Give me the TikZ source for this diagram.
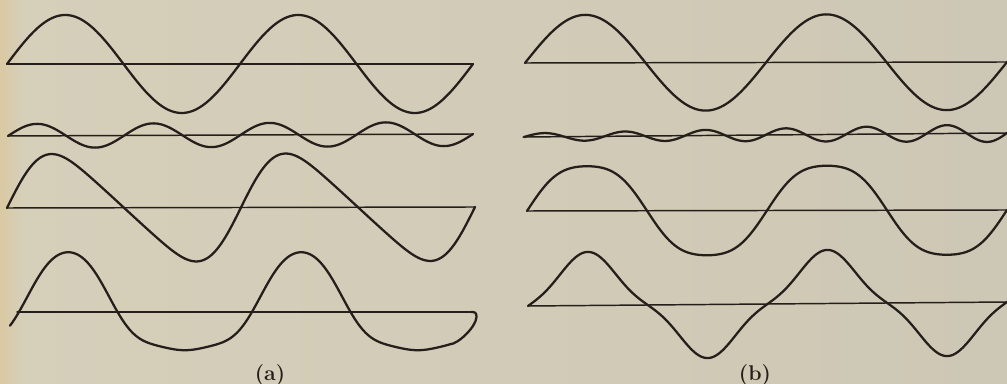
\documentclass[tikz,border=0pt]{standalone}
\usepackage{fontspec}
\definecolor{paperL}{RGB}{214,207,186}
\definecolor{paperR}{RGB}{205,199,181}
\definecolor{edge}{RGB}{218,201,163}
\definecolor{ink}{RGB}{36,31,27}
\begin{document}
\begin{tikzpicture}[x=0.75pt,y=-0.75pt,
  curve/.style={draw=ink,line width=1.7pt,line join=round,line cap=round},
  axisline/.style={draw=ink,line width=1.1pt,line cap=round},
  lbl/.style={font=\fontsize{16}{18}\selectfont\bfseries,text=ink,inner sep=0pt,anchor=base}]
\useasboundingbox (0,0) rectangle (1007,384);
\shade[left color=paperL,right color=paperR] (0,0) rectangle (1007,384);
\shade[left color=edge,right color=paperL] (0,0) rectangle (22,384);

% ---------- panel (a) ----------
% row 1: fundamental
\draw[axisline] (7,64) -- (473,64);
\draw[curve] plot[domain=0:720,samples=240,variable=\t]
  ({7+\t/720*466},{64-49*sin(\t)});
% row 2: second harmonic
\draw[axisline] (8,136) -- (473,134);
\draw[curve] plot[domain=0:720,samples=240,variable=\t]
  ({8+\t/720*465},{136-2*\t/720-12*sin(2*\t)});
% row 3: sum (sawtooth-like)
\draw[axisline] (7,208) -- (475,207);
\draw[curve] plot[domain=0:720,samples=240,variable=\t]
  ({7+\t/720*468},{208-\t/720-51*(sin(\t)+0.2*sin(2*\t)+0.025*sin(3*\t))});
% row 4: sum with shifted harmonic
\draw[axisline] (17,312) -- (471,312);
\draw[curve] plot[domain=0:680,samples=230,variable=\t]
  ({10+\t/720*466},{312-49*(sin(\t)-0.25*cos(2*\t)-0.03*cos(4*\t))})
  .. controls (458,344) and (476,327) .. (476.5,317)
  .. controls (476.5,312.5) and (475,312) .. (471,312);
\node[lbl] (la) at (270,381) {(a)};

% ---------- panel (b) ----------
% row 1: fundamental
\draw[axisline] (525,63) -- (1007,62);
\draw[curve] plot[domain=0:720,samples=240,variable=\t]
  ({525+\t/720*482},{63-\t/720-48*sin(\t)});
% row 2: third harmonic
\draw[axisline] (523,137) -- (1007,133);
\draw[curve] plot[domain=0:720,samples=300,variable=\t]
  ({524+\t/720*483},{137-4*\t/720-(3.5+5.5*\t/720)*sin(3*\t)});
% row 3: sum (flattened tops)
\draw[axisline] (527,211) -- (1007,210);
\draw[curve] plot[domain=0:720,samples=240,variable=\t]
  ({527+\t/720*480},{211-\t/720-48*(sin(\t)+0.07*sin(3*\t))});
% row 4: difference (peaked)
\draw[axisline] (528,306) -- (1007,302);
\draw[curve] plot[domain=0:720,samples=240,variable=\t]
  ({528+\t/720*479},{306-4*\t/720-47*(sin(\t)-0.14*sin(3*\t))});
\node[lbl] (lb) at (755,381) {(b)};
\end{tikzpicture}
\end{document}
